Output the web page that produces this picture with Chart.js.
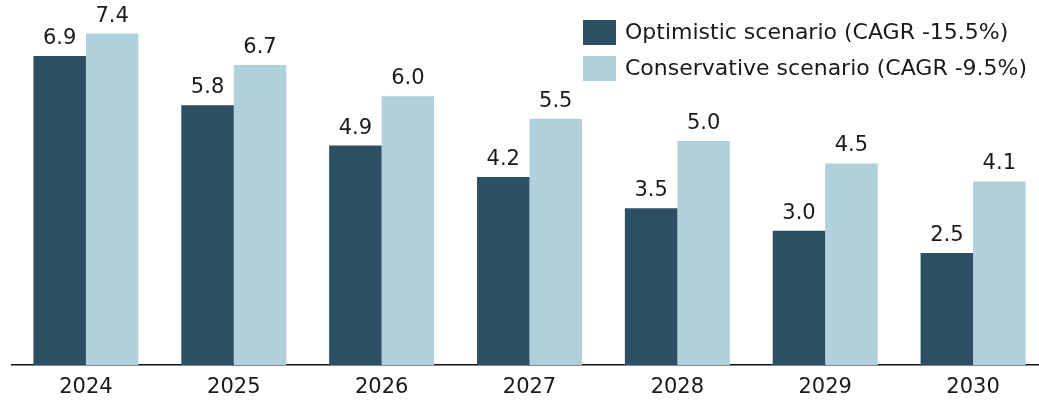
<!DOCTYPE html>
<html>
<head>
<meta charset="utf-8">
<script src="https://cdn.jsdelivr.net/npm/chart.js@4"></script>
<style>
  html, body { margin: 0; padding: 0; background: #fff; overflow: hidden; }
  #wrap { position: relative; width: 1047px; height: 400px; }
</style>
</head>
<body>
<div id="wrap"><canvas id="chart"></canvas></div>
<script>
// --- Data ---
const years = ['2024', '2025', '2026', '2027', '2028', '2029', '2030'];
const optimistic = [6.9, 5.8, 4.9, 4.2, 3.5, 3.0, 2.5];
const conservative = [7.4, 6.7, 6.0, 5.5, 5.0, 4.5, 4.1];
const seriesNames = ['Optimistic scenario (CAGR -15.5%)', 'Conservative scenario (CAGR -9.5%)'];

const darkBlue = '#2c4f64';
const lightBlue = '#b0d1dc';
const textColor = '#1a1a1a';
const fontFamily = '"DejaVu Sans", sans-serif';

// value labels above each bar
const valueLabels = {
    id: 'valueLabels',
    afterDatasetsDraw(chart) {
        const ctx = chart.ctx;
        ctx.save();
        ctx.font = '21px ' + fontFamily;
        ctx.fillStyle = textColor;
        ctx.textAlign = 'center';
        ctx.textBaseline = 'bottom';
        chart.data.datasets.forEach((ds, i) => {
            chart.getDatasetMeta(i).data.forEach((bar, j) => {
                ctx.fillText(ds.data[j].toFixed(1), bar.x, bar.y - 7);
            });
        });
        ctx.restore();
    }
};

// legend in the top right corner
const cornerLegend = {
    id: 'cornerLegend',
    afterDraw(chart) {
        const ctx = chart.ctx;
        ctx.save();
        ctx.font = '22px ' + fontFamily;
        ctx.textBaseline = 'middle';
        ctx.textAlign = 'left';
        chart.data.datasets.forEach((ds, i) => {
            const top = 20 + i * 36;
            ctx.fillStyle = ds.backgroundColor;
            ctx.fillRect(583, top, 33, 25);
            ctx.fillStyle = textColor;
            ctx.fillText(ds.label, 625, top + 13);
        });
        ctx.restore();
    }
};

new Chart(document.getElementById('chart'), {
    type: 'bar',
    data: {
        labels: years,
        datasets: [
            { label: seriesNames[0], data: optimistic, backgroundColor: darkBlue },
            { label: seriesNames[1], data: conservative, backgroundColor: lightBlue }
        ]
    },
    options: {
        responsive: true,
        maintainAspectRatio: false,
        animation: false,
        layout: { padding: { left: 12, right: 0, top: 0, bottom: 0 } },
        datasets: {
            bar: { barPercentage: 1, categoryPercentage: 0.71 }
        },
        plugins: {
            legend: { display: false },
            tooltip: { enabled: false }
        },
        scales: {
            x: {
                grid: { display: false, drawTicks: false },
                border: { display: true, color: '#111', width: 1.5 },
                ticks: {
                    color: textColor,
                    font: { family: fontFamily, size: 21 },
                    padding: 10
                },
                afterFit(scale) { scale.height = 35; }
            },
            y: {
                display: false,
                min: 0,
                max: 8.15
            }
        }
    },
    plugins: [valueLabels, cornerLegend]
});
</script>
</body>
</html>
